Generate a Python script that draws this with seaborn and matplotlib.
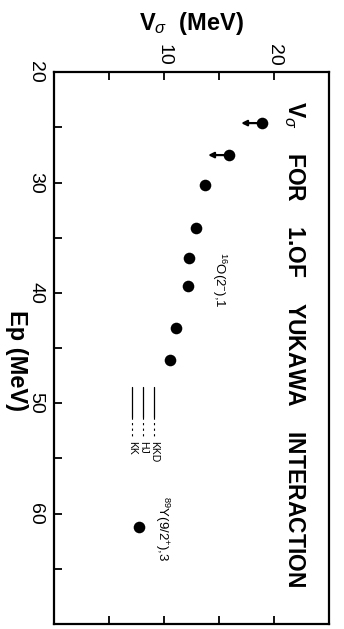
import matplotlib
matplotlib.use("Agg")
import numpy as np
import pandas as pd
import matplotlib.pyplot as plt
import seaborn as sns

# ---------------------------------------------------------------
# data (chart is drawn turned by 90 degrees:
# Ep runs downwards, V_sigma runs to the right)
ep_points = [24.6, 27.5, 30.2, 34.1, 36.8, 39.4, 43.2, 46.1, 61.2]
v_points = [18.9, 15.9, 13.7, 12.9, 12.3, 12.2, 11.05, 10.5, 7.7]
upper_limit = [True, True, False, False, False, False, False, False, False]
arrow_len = 1.9

key_names = ["KK", "HJ", "KKD"]
key_v = [7.1, 8.1, 9.1]
key_ep = [48.5, 51.2, 53.0, 53.4]   # solid start, solid end / dashed start, dashed end, label

ep_ticks = [20, 30, 40, 50, 60]
v_ticks = [10, 20]

df = pd.DataFrame({"Ep": ep_points, "V": v_points, "limit": upper_limit})

sns.set_style("ticks")
plt.rcParams["font.family"] = ["Liberation Sans", "DejaVu Sans"]
plt.rcParams["mathtext.fontset"] = "custom"
plt.rcParams["mathtext.rm"] = "Liberation Sans"
plt.rcParams["mathtext.bf"] = "Liberation Sans:bold"
plt.rcParams["mathtext.it"] = "Liberation Sans:italic"
for k in ["text.color", "axes.labelcolor", "xtick.color", "ytick.color", "axes.edgecolor"]:
    plt.rcParams[k] = "black"

fig = plt.figure(figsize=(3.44, 6.29), dpi=100)
ax = fig.add_axes([0.157, 0.008, 0.800, 0.877])

sns.scatterplot(data=df, x="V", y="Ep", ax=ax, color="black", s=70,
                edgecolor="black", linewidth=0, legend=False, zorder=3)

# upper limit arrows
for v, ep, lim in zip(v_points, ep_points, upper_limit):
    if lim:
        ax.annotate("", xy=(v - arrow_len, ep), xytext=(v, ep),
                    arrowprops=dict(arrowstyle="-|>", color="black", lw=1.6,
                                    mutation_scale=8, shrinkA=0, shrinkB=0))

# theory key lines
for name, v in zip(key_names, key_v):
    ax.plot([v, v], [key_ep[0], key_ep[1]], color="black", lw=0.9)
    ax.plot([v, v], [key_ep[1], key_ep[2]], color="black", lw=0.8, ls=(0, (2, 3)))
    ax.text(v, key_ep[3], name, rotation=-90, ha="center", va="top", fontsize=7.5)

# labels beside points
ax.text(15.0, 36.3, r"$^{16}$O(2$^{-}$),1", rotation=-90, ha="center", va="top", fontsize=9.5)
ax.text(9.8, 58.4, r"$^{89}$Y(9/2$^{+}$),3", rotation=-90, ha="center", va="top", fontsize=9.5)

# title inside the frame
ax.text(21.8, 22.6, r"$\mathbf{V}_{\sigma}$    FOR    1.OF    YUKAWA    INTERACTION",
        rotation=-90, ha="center", va="top", fontsize=16.5, fontweight="bold")

ax.set_xlim(0, 25)
ax.set_ylim(70, 20)
ax.set_xticks(v_ticks)
ax.set_xticks([5, 15], minor=True)
ax.set_yticks(ep_ticks)
ax.set_yticks([25, 35, 45, 55, 65], minor=True)
ax.xaxis.set_ticks_position("both")
ax.tick_params(axis="x", which="both", direction="in", top=True, bottom=True,
               labeltop=True, labelbottom=False, length=6, width=1.3, pad=5)
ax.tick_params(axis="y", which="both", direction="in", left=True, right=False,
               length=6, width=1.3, pad=7)
ax.tick_params(labelsize=14)
for lab in ax.get_xticklabels():
    lab.set_rotation(-90)
for lab in ax.get_yticklabels():
    lab.set_rotation(-90)
    lab.set_va("center")

ax.xaxis.set_label_position("top")
ax.set_xlabel(r"$\mathbf{V}_{\sigma}$  (MeV)", fontsize=17, fontweight="bold", labelpad=10)
ax.set_ylabel("Ep (MeV)", fontsize=17, fontweight="bold", rotation=-90, va="center")
ax.yaxis.set_label_coords(-0.135, 0.478)

for sp in ax.spines.values():
    sp.set_linewidth(1.6)

fig.savefig("out.png", dpi=100)
